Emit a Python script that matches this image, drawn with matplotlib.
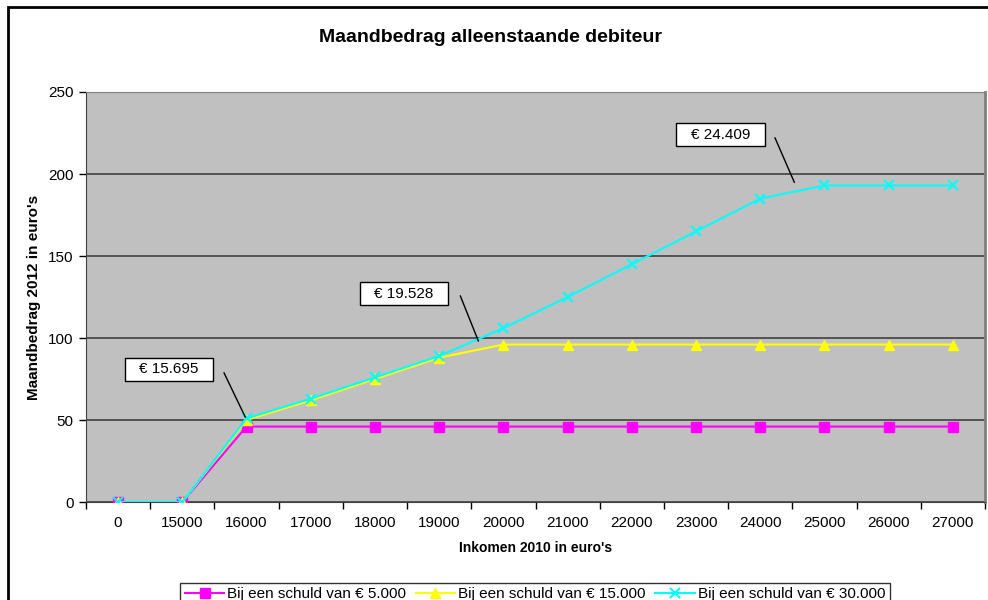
import numpy as np
import matplotlib.pyplot as plt
from matplotlib.patches import Rectangle
from matplotlib.lines import Line2D
from matplotlib.path import Path

plt.rcParams['font.family'] = ['Liberation Sans', 'DejaVu Sans']

incomes = ['0', '15000', '16000', '17000', '18000', '19000', '20000', '21000',
           '22000', '23000', '24000', '25000', '26000', '27000']
schuld_5000 = [0, 0, 46, 46, 46, 46, 46, 46, 46, 46, 46, 46, 46, 46]
schuld_15000 = [0, 0, 50, 62, 75, 88, 96, 96, 96, 96, 96, 96, 96, 96]
schuld_30000 = [0, 0, 51, 63, 76, 89, 106, 125, 145, 165, 185, 193, 193, 193]
labels = ['Bij een schuld van € 5.000', 'Bij een schuld van € 15.000',
          'Bij een schuld van € 30.000']
callouts = ['€ 15.695', '€ 19.528', '€ 24.409']

W, H = 988, 600
fig = plt.figure(figsize=(W / 100, H / 100), dpi=100)

# outer chart border (runs off the right and bottom edge)
fig.patches.append(Rectangle((8 / W, -0.02), 1.05, 1 - 7 / H + 0.02,
                             transform=fig.transFigure, fill=False,
                             edgecolor='black', linewidth=2, zorder=0))

ax = fig.add_axes([86 / W, 1 - 502 / H, (985 - 86) / W, (502 - 92) / H])
ax.set_facecolor('#c0c0c0')
x = np.arange(len(incomes))

ax.plot(x, schuld_5000, color='#ff00ff', marker='s', markersize=7, linewidth=1.5, zorder=3)
ax.plot(x, schuld_15000, color='#ffff00', marker='^', markersize=7, linewidth=1.5, zorder=4)
ax.plot(x, schuld_30000, color='#00ffff', marker='x', markersize=7, markeredgewidth=1.5,
        linewidth=1.5, zorder=5)

ax.set_xlim(-0.5, len(incomes) - 0.5)
ax.set_ylim(0, 250)
ax.set_yticks(range(0, 251, 50))
ax.set_xticks(x)
ax.set_xticklabels(incomes, fontsize=11)
ax.set_xticks(np.arange(-0.5, len(incomes), 1), minor=True)
ax.tick_params(axis='x', which='major', length=0, pad=10)
ax.tick_params(axis='x', which='minor', length=5, direction='out', width=1)
ax.tick_params(axis='y', length=5, direction='out', labelsize=11, width=1, pad=4)
ax.yaxis.grid(True, color='#404040', linewidth=1.2)
ax.set_axisbelow(True)
ax.spines['top'].set_color('#808080')
ax.spines['right'].set_color('#808080')
ax.spines['right'].set_linewidth(2)
ax.spines['left'].set_color('#404040')
ax.spines['bottom'].set_color('#404040')

ax.set_xlabel("Inkomen 2010 in euro's", fontsize=10, fontweight='bold', labelpad=8)
ax.set_ylabel("Maandbedrag 2012 in euro's", fontsize=11, fontweight='bold', labelpad=5)
fig.text(490 / W, 1 - 37 / H, 'Maandbedrag alleenstaande debiteur', fontsize=14,
         fontweight='bold', ha='center', va='center')


# Excel style label box: wider horizontal padding than vertical
def wide_box(x0, y0, width, height, mutation_size):
    px, py = 0.95 * mutation_size, 0.3 * mutation_size
    x0, y0 = x0 - px, y0 - py
    x1, y1 = x0 + width + 2 * px, y0 + height + 2 * py
    return Path([(x0, y0), (x1, y0), (x1, y1), (x0, y1), (x0, y0)], closed=True)


callout_text_pos = [(0.79, 81), (4.45, 127), (9.38, 224)]
leader_lines = [((1.65, 1.98), (78.7, 51.8)),
                ((5.33, 5.61), (125.6, 98.2)),
                ((10.23, 10.53), (222, 195))]
for txt, tp, (lx, ly) in zip(callouts, callout_text_pos, leader_lines):
    ax.text(tp[0], tp[1], txt, fontsize=11, ha='center', va='center', zorder=6,
            bbox=dict(boxstyle=wide_box, facecolor='white', edgecolor='black', linewidth=1))
    ax.plot(lx, ly, color='black', linewidth=1, zorder=6)

handles = [Line2D([], [], color='#ff00ff', marker='s', markersize=7, linewidth=1.5),
           Line2D([], [], color='#ffff00', marker='^', markersize=7, linewidth=1.5),
           Line2D([], [], color='#00ffff', marker='x', markersize=7, markeredgewidth=1.5,
                  linewidth=1.5)]
leg = fig.legend(handles, labels, loc='upper center', bbox_to_anchor=(535 / W, 1 - 575 / H),
                 ncol=3, fontsize=11, frameon=True, fancybox=False, handlelength=2.6,
                 columnspacing=0.6, handletextpad=0.2, borderpad=0.3)
leg.get_frame().set_edgecolor('black')
leg.get_frame().set_linewidth(1)

fig.savefig('out.png', dpi=100)
